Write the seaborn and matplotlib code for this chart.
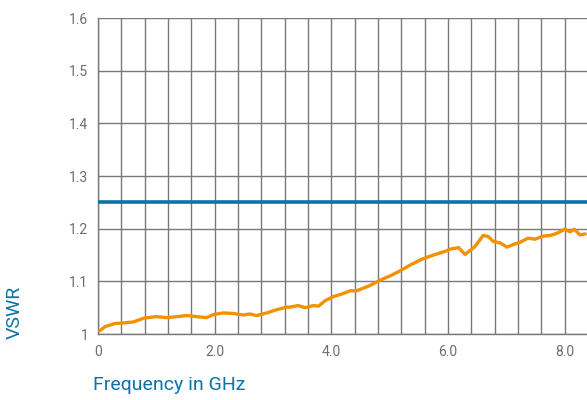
import matplotlib
matplotlib.use("Agg")
import matplotlib.pyplot as plt
import seaborn as sns
import pandas as pd
import numpy as np

# Measured VSWR versus frequency
freq_ghz = [0.03, 0.12, 0.29, 0.43, 0.61, 0.78, 1.00, 1.18, 1.35, 1.52, 1.69, 1.86,
            1.98, 2.15, 2.32, 2.49, 2.60, 2.72, 2.89, 3.06, 3.23, 3.29, 3.43, 3.55,
            3.69, 3.78, 3.89, 4.03, 4.18, 4.32, 4.43, 4.66, 4.83, 5.00, 5.18, 5.35,
            5.55, 5.75, 5.98, 6.03, 6.18, 6.29, 6.46, 6.60, 6.69, 6.77, 6.89, 7.01,
            7.12, 7.23, 7.37, 7.49, 7.63, 7.75, 7.86, 8.00, 8.09, 8.16, 8.26, 8.35]
vswr = [1.006, 1.014, 1.020, 1.021, 1.023, 1.030, 1.033, 1.031, 1.033, 1.035, 1.033, 1.031,
        1.037, 1.040, 1.039, 1.036, 1.038, 1.035, 1.040, 1.046, 1.051, 1.051, 1.054, 1.050,
        1.054, 1.053, 1.063, 1.071, 1.076, 1.082, 1.082, 1.092, 1.102, 1.110, 1.120, 1.131,
        1.142, 1.150, 1.158, 1.161, 1.164, 1.151, 1.166, 1.187, 1.185, 1.176, 1.173, 1.165,
        1.170, 1.174, 1.182, 1.180, 1.186, 1.187, 1.191, 1.199, 1.194, 1.199, 1.188, 1.190]

limit_vswr = 1.25
x_ticks = [0, 2.0, 4.0, 6.0, 8.0]
x_tick_labels = ["0", "2.0", "4.0", "6.0", "8.0"]
y_ticks = [1.0, 1.1, 1.2, 1.3, 1.4, 1.5, 1.6]
y_tick_labels = ["1", "1.1", "1.2", "1.3", "1.4", "1.5", "1.6"]

BLUE = "#0a74a6"
ORANGE = "#f39200"
GRID = "#7a7a7a"
TEXT = "#6e6e6e"

sns.set_theme(style="white")
plt.rcParams["font.family"] = ["Roboto", "DejaVu Sans"]

fig = plt.figure(figsize=(5.87, 4.0), dpi=100)
ax = fig.add_axes([98 / 587, 1 - 334 / 400, 1 - 98 / 587, (334 - 18) / 400])

df = pd.DataFrame({"freq": freq_ghz, "vswr": vswr})
x_max = 8.38

ax.axhline(limit_vswr, color=BLUE, lw=2.6, zorder=3)
sns.lineplot(data=df, x="freq", y="vswr", ax=ax, color=ORANGE, lw=2.4, zorder=4)

ax.set_xlim(0, x_max)
ax.set_ylim(1.0, 1.6)
ax.set_xticks(np.arange(0, x_max, 0.4), minor=True)
ax.set_xticks(x_ticks)
ax.set_xticklabels(x_tick_labels)
ax.set_yticks(y_ticks)
ax.set_yticklabels(y_tick_labels)

ax.grid(True, which="both", axis="x", color=GRID, lw=1.0)
ax.grid(True, which="major", axis="y", color=GRID, lw=1.0)
ax.set_axisbelow(True)

for side in ["top", "right"]:
    ax.spines[side].set_visible(False)
for side in ["left", "bottom"]:
    ax.spines[side].set_color(GRID)
    ax.spines[side].set_linewidth(1.0)

ax.tick_params(axis="both", which="both", length=0, labelsize=10, labelcolor=TEXT)
ax.tick_params(axis="x", pad=8)
ax.tick_params(axis="y", pad=7)

ax.set_xlabel("")
ax.set_ylabel("")
fig.text(93 / 587, 1 - 385 / 400, "Frequency in GHz", color=BLUE, fontsize=14,
         ha="left", va="center")
fig.text(15 / 587, 1 - 312 / 400, "VSWR", color=BLUE, fontsize=14, rotation=90,
         ha="center", va="center")

fig.savefig("out.png", dpi=100)
